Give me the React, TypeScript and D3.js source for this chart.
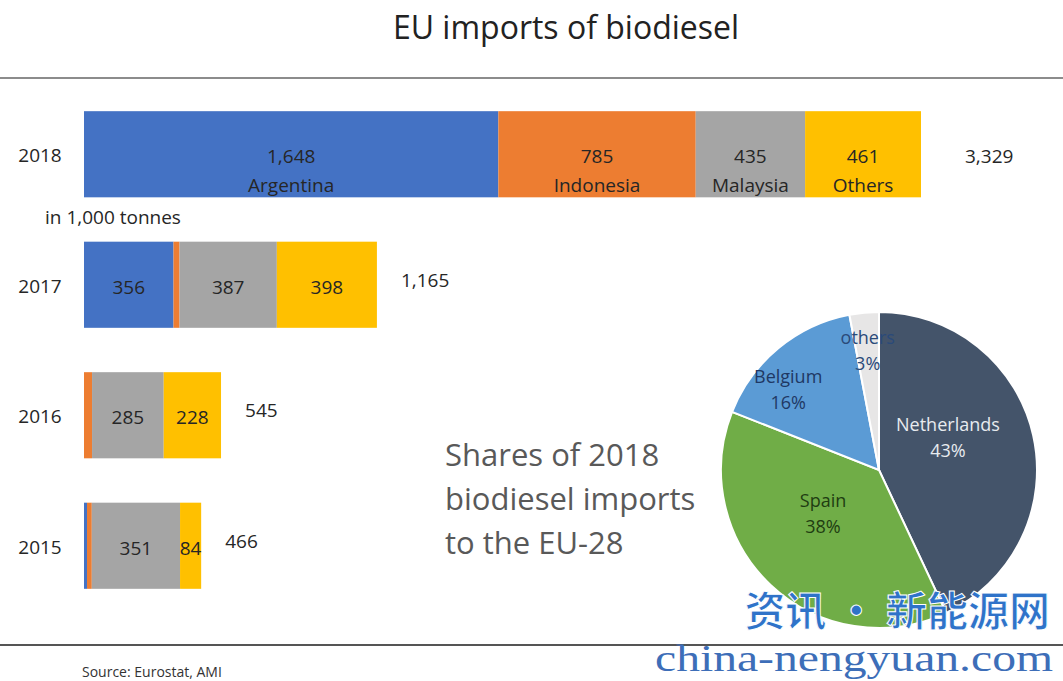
import React from 'react';
import * as d3 from 'd3';

const years = ['2018', '2017', '2016', '2015'];
const countries = ['Argentina', 'Indonesia', 'Malaysia', 'Others'];
const argentina = [1648, 356, 0, 12];
const indonesia = [785, 24, 32, 19];
const malaysia = [435, 387, 285, 351];
const others = [461, 398, 228, 84];
const totals = [3329, 1165, 545, 466];

const pieLabels = ['Netherlands', 'Spain', 'Belgium', 'others'];
const pieShares = [43, 38, 16, 3];

const W = 1063;
const H = 681;

const barColors = ['#4472c4', '#ed7d31', '#a5a5a5', '#ffc000'];
const pieColors = ['#44546a', '#70ad47', '#5b9bd5', '#e7e6e6'];
const pieText = ['#e8ebef', '#1f3d12', '#1f3864', '#2a4a7a'];

const FONT = '"Open Sans", "Noto Sans", sans-serif';

const App: React.FC = () => {
  const rows = years.map((y, i) => ({
    year: y,
    values: [argentina[i], indonesia[i], malaysia[i], others[i]],
    total: totals[i],
  }));

  const x = d3.scaleLinear().domain([0, 3329]).range([84, 921]);
  const y = d3.scaleBand<string>()
    .domain(years)
    .range([89, 611])
    .paddingInner(0.34)
    .paddingOuter(0.17);

  const stack = d3.stack<number[]>().keys(['0', '1', '2', '3'])
    .value((d, k) => d[+k]);
  const series = stack(rows.map(r => r.values));

  const pieData = d3.pie<number>().sort(null).value(d => d)(pieShares);
  const r = 158;
  const arc = d3.arc<d3.PieArcDatum<number>>().innerRadius(0).outerRadius(r);
  const cx = 879;
  const cy = 470;
  // hand tuned label spots: radius fraction and angle nudge (deg)
  const labelRadius = [0.485, 0.445, 0.77, 0.76];
  const labelNudge = [-13.3, 9.6, -8.7, 0];

  const fmt = d3.format(',');

  return (
    <svg width={W} height={H} style={{ position: 'absolute', left: 0, top: 0, background: '#fff' }}
      fontFamily={FONT}>
      <text x={566} y={39} textAnchor="middle" fontSize={32} fill="#222">EU imports of biodiesel</text>
      <line x1={0} x2={W} y1={78} y2={78} stroke="#8c8c8c" strokeWidth={2} />

      {series.map((s, si) => (
        <g key={si}>
          {s.map((d, i) => {
            const v = rows[i].values[si];
            if (v <= 0) return null;
            const x0 = x(d[0]);
            const x1 = x(d[1]);
            const yy = y(rows[i].year)!;
            const bh = y.bandwidth();
            const showName = i === 0;
            return (
              <g key={i}>
                <rect x={x0} y={yy} width={x1 - x0} height={bh} fill={barColors[si]} />
                {v >= 50 && (
                  <text x={(x0 + x1) / 2} y={yy + bh / 2 + 9}
                    textAnchor="middle" fontSize={19} fill="#262626">
                    {fmt(v)}
                  </text>
                )}
                {showName && (
                  <text x={(x0 + x1) / 2} y={yy + bh / 2 + 38} textAnchor="middle" fontSize={19} fill="#262626">
                    {countries[si]}
                  </text>
                )}
              </g>
            );
          })}
        </g>
      ))}

      {rows.map((row, i) => {
        const yy = y(row.year)! + y.bandwidth() / 2;
        return (
          <g key={row.year}>
            <text x={40} y={yy + 8} textAnchor="middle" fontSize={19} fill="#262626">{row.year}</text>
            <text x={x(row.total) + (i === 0 ? 44 : 24)} y={yy + (i === 0 ? 9 : 2)} fontSize={19} fill="#262626">
              {fmt(row.total)}
            </text>
          </g>
        );
      })}

      <text x={45} y={224} fontSize={19} fill="#262626">in 1,000 tonnes</text>

      <g fontSize={31} fill="#595959">
        <text x={445} y={466}>Shares of 2018</text>
        <text x={445} y={510}>biodiesel imports</text>
        <text x={445} y={554}>to the EU-28</text>
      </g>

      <g transform={`translate(${cx},${cy})`}>
        {pieData.map((d, i) => (
          <path key={i} d={arc(d) || ''} fill={pieColors[i]} stroke="#fff" strokeWidth={2} />
        ))}
        {pieData.map((d, i) => {
          const rr = r * labelRadius[i];
          const a = (d.startAngle + d.endAngle) / 2 + (labelNudge[i] * Math.PI) / 180;
          const lx = Math.sin(a) * rr;
          const ly = -Math.cos(a) * rr;
          return (
            <text key={i} textAnchor="middle" fontSize={18} fill={pieText[i]}>
              <tspan x={lx} y={ly - 6}>{pieLabels[i]}</tspan>
              <tspan x={lx} y={ly + 20}>{pieShares[i]}%</tspan>
            </text>
          );
        })}
      </g>

      <line x1={0} x2={W} y1={645} y2={645} stroke="#555" strokeWidth={2} />
      <text x={82} y={677} fontSize={14} fill="#333">Source: Eurostat, AMI</text>

      <text x={1050} y={626} textAnchor="end" fontSize={41} fontWeight={700}
        fontFamily='"Noto Sans CJK SC", sans-serif' fill="#2f73c9" stroke="#fff" strokeWidth={1}>
        资讯 · 新能源网
      </text>
      <text x={655} y={671} fontSize={37} textLength={398} lengthAdjust="spacingAndGlyphs"
        fontFamily='"Liberation Serif", "DejaVu Serif", serif' fill="#3d6eb8">
        china-nengyuan.com
      </text>
    </svg>
  );
};

export default App;
